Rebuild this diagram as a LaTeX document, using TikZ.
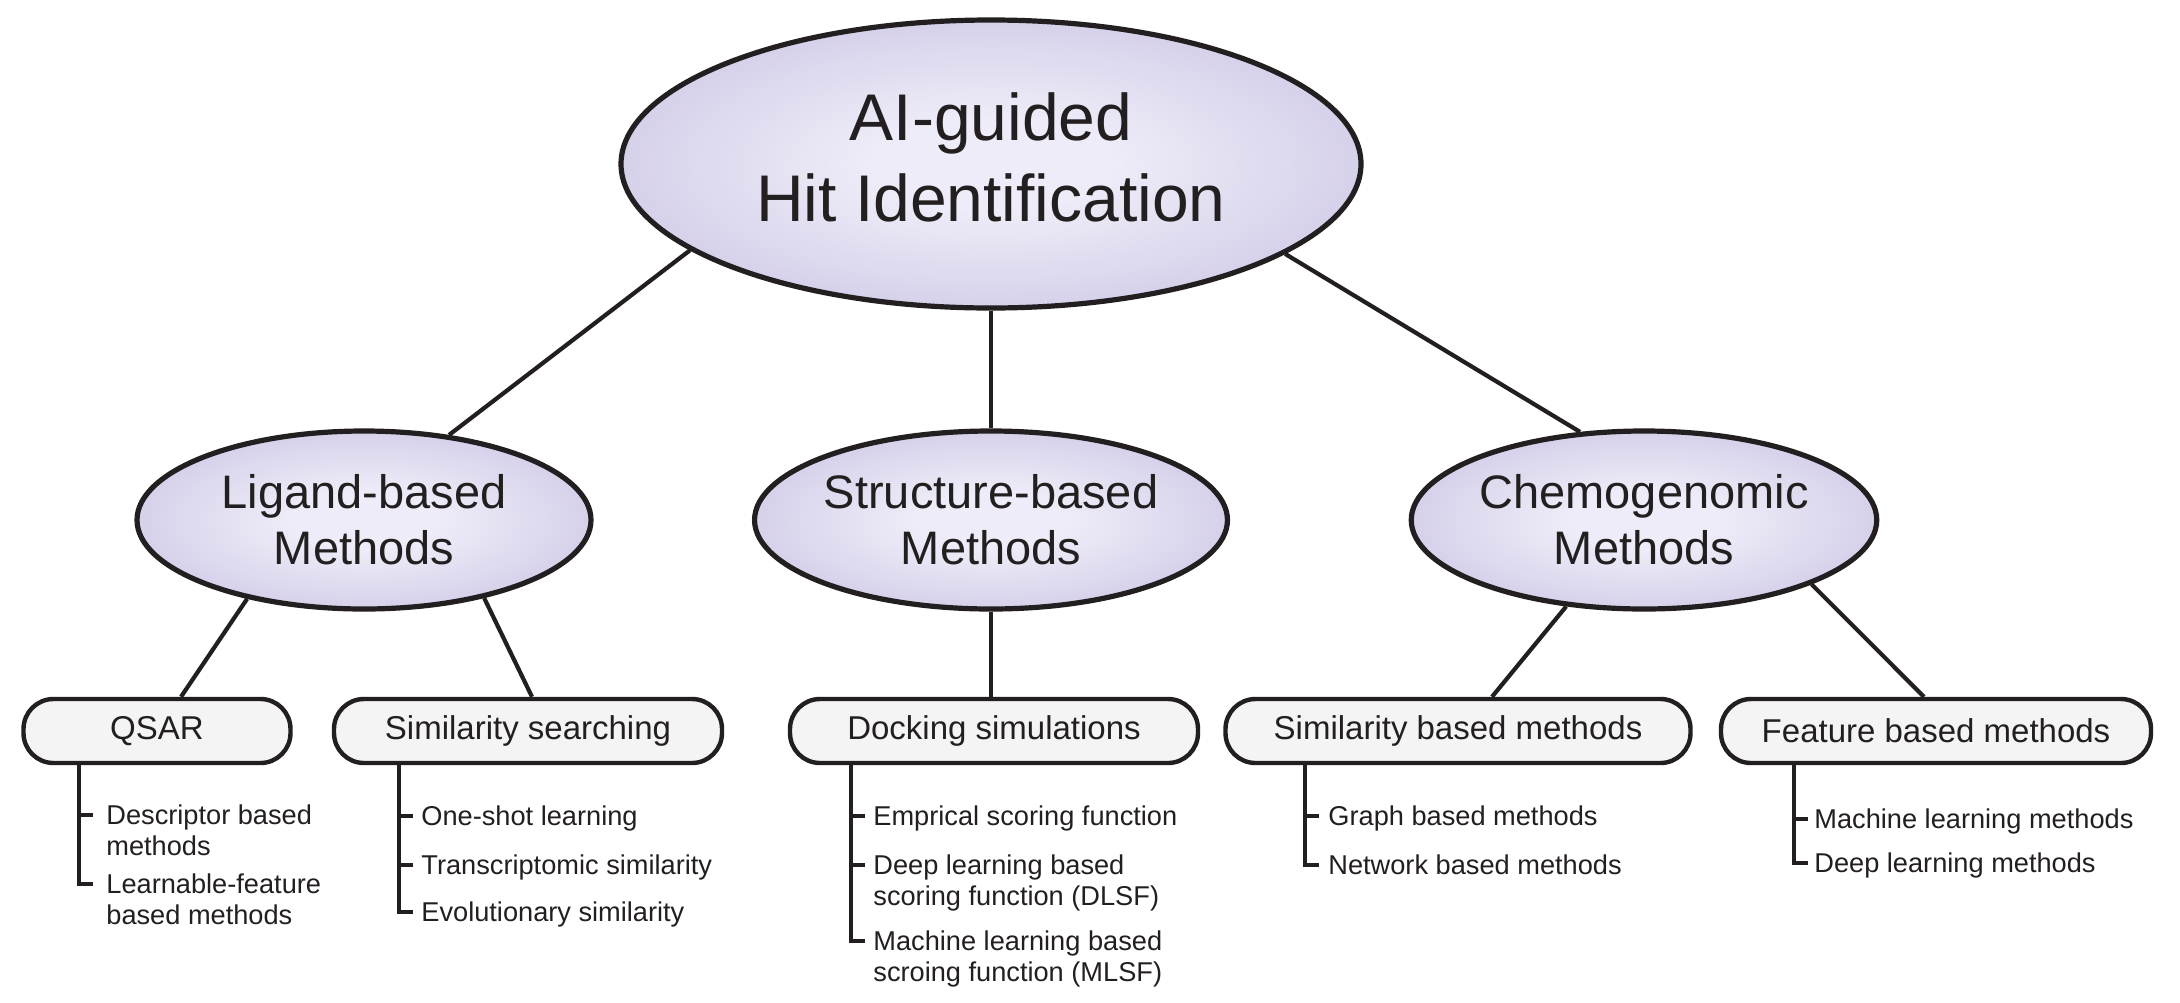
\documentclass[tikz,border=0pt]{standalone}
\usepackage{fontspec}
\setmainfont{Liberation Sans}
\usetikzlibrary{shapes.geometric}
\definecolor{ink}{RGB}{35,31,32}
\definecolor{ellin}{RGB}{238,236,248}
\definecolor{ellout}{RGB}{214,209,234}
\definecolor{boxfill}{RGB}{244,244,244}
\pgfdeclareradialshading{ellshade}{\pgfpoint{0bp}{0bp}}{color(0bp)=(ellin); color(8bp)=(ellin); color(25bp)=(ellout); color(50bp)=(ellout)}
\newcommand{\itemlines}[1]{\begin{tabular}[t]{@{}l@{}}#1\end{tabular}}
\begin{document}
\begin{tikzpicture}[x=0.5pt,y=-0.5pt,
  every node/.style={text=ink},
  bigell/.style={ellipse, draw=ink, line width=2.6pt, shade, shading=ellshade,
    minimum width=370pt, minimum height=144pt, inner sep=0pt, align=center,
    font=\fontsize{33pt}{40.5pt}\selectfont},
  midell/.style={ellipse, draw=ink, line width=2.6pt, shade, shading=ellshade,
    minimum width=227pt, minimum height=89pt, inner sep=0pt, align=center,
    font=\fontsize{23.5pt}{28pt}\selectfont},
  catbox/.style={rectangle, rounded corners=15pt, draw=ink, line width=2.2pt,
    fill=boxfill, minimum height=32pt, inner sep=0pt,
    font=\fontsize{16.5pt}{19pt}\selectfont},
  item/.style={anchor=base west, inner sep=0pt,
    font=\fontsize{13.6pt}{15.5pt}\selectfont},
  link/.style={draw=ink, line width=2.1pt},
  brk/.style={draw=ink, line width=1.6pt, line join=miter}]

\fill[white] (0,0) rectangle (2180,1002);
\useasboundingbox (0,0) rectangle (2180,1002);

% main ellipses
\node[bigell] (top) at (991,164) {AI-guided\\Hit Identification\rule[-7pt]{0pt}{7pt}};
\node[midell] (lig) at (364,520) {Ligand-based\\Methods};
\node[midell] (str) at (991,520) {Structure-based\\Methods};
\node[midell] (che) at (1644,520) {Chemogenomic\\Methods};

% category boxes
\node[catbox, minimum width=133.5pt] (qsar) at (157,731) {QSAR};
\node[catbox, minimum width=194pt] (sims) at (528,731) {Similarity searching};
\node[catbox, minimum width=204pt] (dock) at (994,731) {Docking simulations};
\node[catbox, minimum width=232.5pt] (simb) at (1458,731) {Similarity based methods};
\node[catbox, minimum width=215pt] (feat) at (1936,731) {Feature based methods};

% connectors
\draw[link] (top.196) -- (lig.45);
\draw[link] (top.south) -- (str.north);
\draw[link] (top.343) -- (che.126);
\draw[link] (lig.214) -- ([xshift=12pt]qsar.north);
\draw[link] (lig.327) -- ([xshift=2pt]sims.north);
\draw[link] (str.south) -- (str.south |- dock.north);
\draw[link] (che.228) -- ([xshift=17pt]simb.north);
\draw[link] (che.339) -- ([xshift=-6pt]feat.north);

% items: QSAR
\node[item] (q1) at (106,824) {\itemlines{Descriptor based\\methods}};
\node[item] (q2) at (106,893) {\itemlines{Learnable-feature\\based methods}};
% items: similarity searching
\node[item] (s1) at (421,825) {\itemlines{One-shot learning}};
\node[item] (s2) at (421,874) {\itemlines{Transcriptomic similarity}};
\node[item] (s3) at (421,921) {\itemlines{Evolutionary similarity}};
% items: docking
\node[item] (d1) at (873,825) {\itemlines{Emprical scoring function}};
\node[item] (d2) at (873,874) {\itemlines{Deep learning based\\scoring function (DLSF)}};
\node[item] (d3) at (873,950) {\itemlines{Machine learning based\\scroing function (MLSF)}};
% items: similarity based
\node[item] (b1) at (1328,825) {\itemlines{Graph based methods}};
\node[item] (b2) at (1328,874) {\itemlines{Network based methods}};
% items: feature based
\node[item] (f1) at (1814,828) {\itemlines{Machine learning methods}};
\node[item] (f2) at (1814,872) {\itemlines{Deep learning methods}};

% bracket x positions
\coordinate (Xq) at (79,780);
\coordinate (Xs) at (399,780);
\coordinate (Xd) at (851,780);
\coordinate (Xb) at (1305,780);
\coordinate (Xf) at (1794,780);

% tick anchor points
\foreach \n/\X in {q1/Xq,q2/Xq,s1/Xs,s2/Xs,s3/Xs,d1/Xd,d2/Xd,d3/Xd,b1/Xb,b2/Xb,f1/Xf,f2/Xf}{
  \coordinate (\n t) at ([yshift=4.5pt]\n.base west);
  \path (\X |- \n t) coordinate (\n a);
}

% brackets
\draw[brk] (qsar.south -| Xq) -- (q2a) -- ++(7pt,0);
\draw[brk] (q1a) -- ++(7pt,0);
\draw[brk] (sims.south -| Xs) -- (s3a) -- ++(7pt,0);
\draw[brk] (s1a) -- ++(7pt,0);
\draw[brk] (s2a) -- ++(7pt,0);
\draw[brk] (dock.south -| Xd) -- (d3a) -- ++(7pt,0);
\draw[brk] (d1a) -- ++(7pt,0);
\draw[brk] (d2a) -- ++(7pt,0);
\draw[brk] (simb.south -| Xb) -- (b2a) -- ++(7pt,0);
\draw[brk] (b1a) -- ++(7pt,0);
\draw[brk] (feat.south -| Xf) -- (f2a) -- ++(7pt,0);
\draw[brk] (f1a) -- ++(7pt,0);
\end{tikzpicture}
\end{document}
